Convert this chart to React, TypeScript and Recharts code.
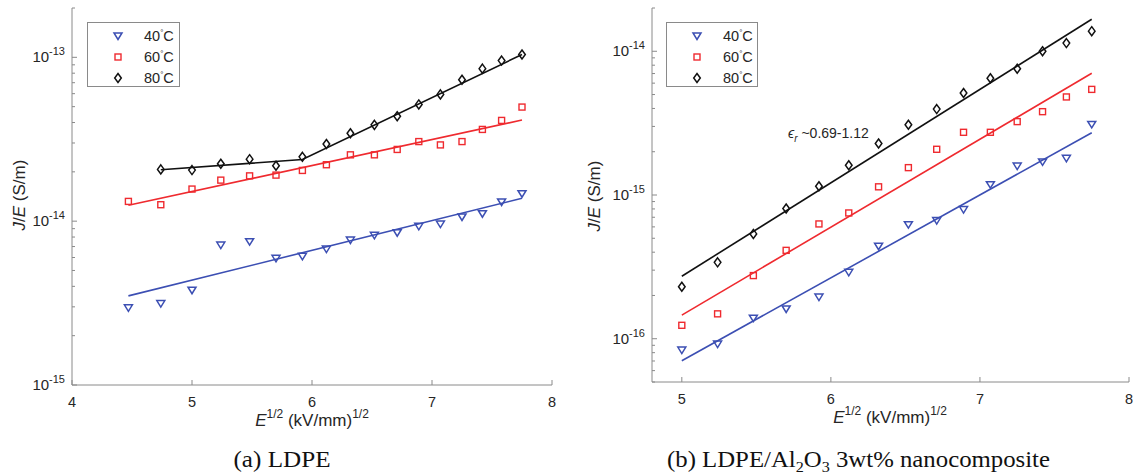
import { ComposedChart, Scatter, Line, XAxis, YAxis } from "recharts";

// sqrt of field, (kV/mm)^1/2
const fieldLdpe = [4.47, 4.74, 5.0, 5.24, 5.48, 5.7, 5.92, 6.12, 6.32, 6.52, 6.71, 6.89, 7.07, 7.25, 7.42, 7.58, 7.75];
const fieldComp = [5.0, 5.24, 5.48, 5.7, 5.92, 6.12, 6.32, 6.52, 6.71, 6.89, 7.07, 7.25, 7.42, 7.58, 7.75];

// (a) LDPE, J/E in S/m
const ldpe40 = [2.96e-15, 3.14e-15, 3.79e-15, 7.15e-15, 7.5e-15, 5.93e-15, 6.1e-15, 6.76e-15, 7.67e-15, 8.19e-15, 8.5e-15, 9.3e-15, 9.6e-15, 1.06e-14, 1.11e-14, 1.31e-14, 1.47e-14];
const ldpe60 = [1.32e-14, 1.26e-14, 1.57e-14, 1.78e-14, 1.89e-14, 1.91e-14, 2.04e-14, 2.21e-14, 2.54e-14, 2.54e-14, 2.74e-14, 3.06e-14, 2.92e-14, 3.06e-14, 3.63e-14, 4.12e-14, 4.97e-14];
// 80C starts at the second field value
const ldpe80 = [2.07e-14, 2.05e-14, 2.24e-14, 2.39e-14, 2.18e-14, 2.47e-14, 2.96e-14, 3.44e-14, 3.87e-14, 4.37e-14, 5.16e-14, 5.94e-14, 7.3e-14, 8.53e-14, 9.55e-14, 1.04e-13];

const ldpeFit40 = [{ x: 4.47, y: 3.5e-15 }, { x: 7.75, y: 1.38e-14 }];
const ldpeFit60 = [{ x: 4.47, y: 1.25e-14 }, { x: 7.75, y: 4.14e-14 }];
const ldpeFit80 = [{ x: 4.74, y: 2.06e-14 }, { x: 5.92, y: 2.38e-14 }, { x: 7.75, y: 1.04e-13 }];

// (b) LDPE/Al2O3 3wt%
const comp40 = [8.34e-17, 9.18e-17, 1.39e-16, 1.61e-16, 1.95e-16, 2.9e-16, 4.4e-16, 6.22e-16, 6.64e-16, 7.92e-16, 1.18e-15, 1.59e-15, 1.7e-15, 1.8e-15, 3.1e-15];
const comp60 = [1.24e-16, 1.49e-16, 2.75e-16, 4.12e-16, 6.29e-16, 7.5e-16, 1.14e-15, 1.55e-15, 2.08e-15, 2.73e-15, 2.73e-15, 3.24e-15, 3.8e-15, 4.81e-15, 5.43e-15];
const comp80 = [2.3e-16, 3.4e-16, 5.36e-16, 8.05e-16, 1.15e-15, 1.61e-15, 2.28e-15, 3.08e-15, 3.96e-15, 5.13e-15, 6.49e-15, 7.56e-15, 1.0e-14, 1.14e-14, 1.38e-14];

const compFit40 = [{ x: 5.0, y: 7.03e-17 }, { x: 7.75, y: 2.71e-15 }];
const compFit60 = [{ x: 5.0, y: 1.46e-16 }, { x: 7.75, y: 7.03e-15 }];
const compFit80 = [{ x: 5.0, y: 2.72e-16 }, { x: 7.75, y: 1.67e-14 }];

const legendLabels = ["40", "60", "80"];
const ldpeDecades = [1e-15, 1e-14, 1e-13];
const compDecades = [1e-16, 1e-15, 1e-14];
const ldpeXTicks = [4, 5, 6, 7, 8];
const compXTicks = [5, 6, 7, 8];

const BLUE = "#3c4fb3";
const RED = "#ef2a2f";
const BLACK = "#111111";
const AXIS = "#8a8a8a";
const TEXT = "#262626";
const FONT = "'Liberation Sans', Arial, sans-serif";
const SERIF = "'Liberation Serif', 'Times New Roman', serif";

const pts = (xs: number[], ys: number[]) => ys.map((y, i) => ({ x: xs[i], y }));

// major decades plus 2..9 minor ticks inside the domain
function logTicks(decades: number[], lo: number, hi: number) {
  const out: number[] = [];
  decades.forEach((d) => {
    for (let m = 1; m < 10; m++) {
      const v = m * d;
      if (v >= lo * 0.999 && v <= hi * 1.001) out.push(v);
    }
  });
  const below = decades[0] / 10;
  for (let m = 2; m < 10; m++) {
    const v = m * below;
    if (v >= lo * 0.999) out.push(v);
  }
  return out.sort((a, b) => a - b);
}

function TriDown({ cx, cy, color = BLUE }: any) {
  return <path d={`M${cx - 4},${cy - 3} L${cx + 4},${cy - 3} L${cx},${cy + 3.5} Z`} fill="none" stroke={color} strokeWidth={1.5} />;
}
function Sq({ cx, cy, color = RED }: any) {
  return <rect x={cx - 3} y={cy - 3} width={6} height={6} fill="none" stroke={color} strokeWidth={1.4} />;
}
function Dia({ cx, cy, color = BLACK }: any) {
  return <path d={`M${cx},${cy - 4.5} L${cx + 3.3},${cy} L${cx},${cy + 4.5} L${cx - 3.3},${cy} Z`} fill="none" stroke={color} strokeWidth={1.5} />;
}

const Y_GAP = 7;
function YTick(props: any) {
  const { x, y, payload } = props;
  const v = payload.value;
  const e = Math.log10(v);
  const major = Math.abs(e - Math.round(e)) < 1e-6;
  const ax = x + Y_GAP;
  return (
    <g>
      <line x1={ax} x2={ax + (major ? 5 : 3)} y1={y} y2={y} stroke={AXIS} strokeWidth={1} />
      {major && (
        <text x={x} y={y + 5} textAnchor="end" fontFamily={FONT} fontSize={15} fill={TEXT}>
          10<tspan dy={-7} fontSize={11}>{Math.round(e)}</tspan>
        </text>
      )}
    </g>
  );
}

const X_GAP = 10;
function XTick(props: any) {
  const { x, y, payload } = props;
  const ay = y - X_GAP;
  return (
    <g>
      <line x1={x} x2={x} y1={ay} y2={ay - 5} stroke={AXIS} strokeWidth={1} />
      <text x={x} y={y + 12} textAnchor="middle" fontFamily={FONT} fontSize={14.5} fill={TEXT}>
        {payload.value}
      </text>
    </g>
  );
}

function Panel({ width, xDomain, yDomain, xTicks, decades, xHeight, s40, s60, s80, f40, f60, f80 }: any) {
  return (
    <ComposedChart width={width} height={440} margin={{ top: 8, right: width === 570 ? 18 : 4, bottom: 0, left: 0 }}>
      <XAxis
        type="number"
        dataKey="x"
        domain={xDomain}
        ticks={xTicks}
        interval={0}
        allowDataOverflow
        height={xHeight}
        tickSize={0}
        tickMargin={X_GAP}
        tickLine={false}
        axisLine={{ stroke: AXIS, strokeWidth: 1 }}
        tick={<XTick />}
      />
      <YAxis
        type="number"
        dataKey="y"
        scale="log"
        domain={yDomain}
        allowDataOverflow
        ticks={logTicks(decades, yDomain[0], yDomain[1])}
        interval={0}
        width={72}
        tickSize={0}
        tickMargin={Y_GAP}
        tickLine={false}
        axisLine={{ stroke: AXIS, strokeWidth: 1 }}
        tick={<YTick />}
      />
      <Line data={f40} dataKey="y" stroke={BLUE} strokeWidth={1.6} dot={false} isAnimationActive={false} />
      <Line data={f60} dataKey="y" stroke={RED} strokeWidth={1.6} dot={false} isAnimationActive={false} />
      <Line data={f80} dataKey="y" stroke={BLACK} strokeWidth={1.6} dot={false} isAnimationActive={false} />
      <Scatter data={s40} dataKey="y" shape={(p: any) => <TriDown cx={p.cx} cy={p.cy} />} isAnimationActive={false} />
      <Scatter data={s60} dataKey="y" shape={(p: any) => <Sq cx={p.cx} cy={p.cy} />} isAnimationActive={false} />
      <Scatter data={s80} dataKey="y" shape={(p: any) => <Dia cx={p.cx} cy={p.cy} />} isAnimationActive={false} />
    </ComposedChart>
  );
}

function LegendBox({ x, y, w, h, mx, tx }: any) {
  const rows = [36, 57, 78];
  const marks = [TriDown, Sq, Dia];
  return (
    <g>
      <rect x={x} y={y} width={w} height={h} fill="#fff" stroke={AXIS} strokeWidth={1} />
      {legendLabels.map((t, i) => {
        const M = marks[i];
        return (
          <g key={t}>
            <M cx={mx} cy={rows[i]} />
            <text x={tx} y={rows[i] + 5} fontFamily={FONT} fontSize={14.5} fill={TEXT}>
              {t}
              <tspan dy={-6} fontSize={8}>°</tspan>
              <tspan dy={6}>C</tspan>
            </text>
          </g>
        );
      })}
    </g>
  );
}

function YLabel({ cx, cy }: any) {
  return (
    <text x={cx} y={cy} transform={`rotate(-90 ${cx} ${cy})`} textAnchor="middle" fontFamily={FONT} fontSize={17} fill={TEXT}>
      <tspan fontStyle="italic">J</tspan>/<tspan fontStyle="italic">E</tspan> (S/m)
    </text>
  );
}

function XLabel({ cx, y }: any) {
  return (
    <text x={cx} y={y} textAnchor="middle" fontFamily={FONT} fontSize={17} fill={TEXT}>
      <tspan fontStyle="italic">E</tspan>
      <tspan dy={-8} fontSize={12}>1/2</tspan>
      <tspan dy={8}> (kV/mm)</tspan>
      <tspan dy={-8} fontSize={12}>1/2</tspan>
    </text>
  );
}

export default function App() {
  return (
    <div style={{ position: "absolute", left: 0, top: 0, width: 1133, height: 475, background: "#fff" }}>
      <div style={{ position: "absolute", left: 0, top: 0 }}>
        <Panel
          width={570}
          xDomain={[4, 8]}
          yDomain={[1e-15, 2e-13]}
          xTicks={ldpeXTicks}
          decades={ldpeDecades}
          xHeight={55}
          s40={pts(fieldLdpe, ldpe40)}
          s60={pts(fieldLdpe, ldpe60)}
          s80={pts(fieldLdpe.slice(1), ldpe80)}
          f40={ldpeFit40}
          f60={ldpeFit60}
          f80={ldpeFit80}
        />
      </div>
      <div style={{ position: "absolute", left: 580, top: 0 }}>
        <Panel
          width={553}
          xDomain={[4.8, 8]}
          yDomain={[5e-17, 2e-14]}
          xTicks={compXTicks}
          decades={compDecades}
          xHeight={58}
          s40={pts(fieldComp, comp40)}
          s60={pts(fieldComp, comp60)}
          s80={pts(fieldComp, comp80)}
          f40={compFit40}
          f60={compFit60}
          f80={compFit80}
        />
      </div>
      <svg width={1133} height={475} style={{ position: "absolute", left: 0, top: 0, pointerEvents: "none" }}>
        <LegendBox x={87.5} y={22.5} w={92} h={64} mx={118} tx={144} />
        <LegendBox x={666.5} y={22.5} w={91} h={64} mx={697} tx={723} />
        <YLabel cx={25} cy={195} />
        <YLabel cx={600} cy={196} />
        <XLabel cx={312} y={426} />
        <XLabel cx={890} y={423} />
        <text x={788} y={138} fontFamily={FONT} fontSize={14} fill={TEXT}>
          <tspan fontStyle="italic">ϵ</tspan>
          <tspan dy={4} fontSize={10} fontStyle="italic">r</tspan>
          <tspan dy={-4}> ~0.69-1.12</tspan>
        </text>
        <text x={282} y={467} textAnchor="middle" fontFamily={SERIF} fontSize={23} fill="#111" textLength={97} lengthAdjust="spacingAndGlyphs">
          (a) LDPE
        </text>
        <text x={667} y={467} fontFamily={SERIF} fontSize={23} fill="#111" textLength={383} lengthAdjust="spacingAndGlyphs">
          (b) LDPE/Al<tspan dy={5} fontSize={15}>2</tspan>
          <tspan dy={-5}>O</tspan>
          <tspan dy={5} fontSize={15}>3</tspan>
          <tspan dy={-5}> 3wt% nanocomposite</tspan>
        </text>
      </svg>
    </div>
  );
}
